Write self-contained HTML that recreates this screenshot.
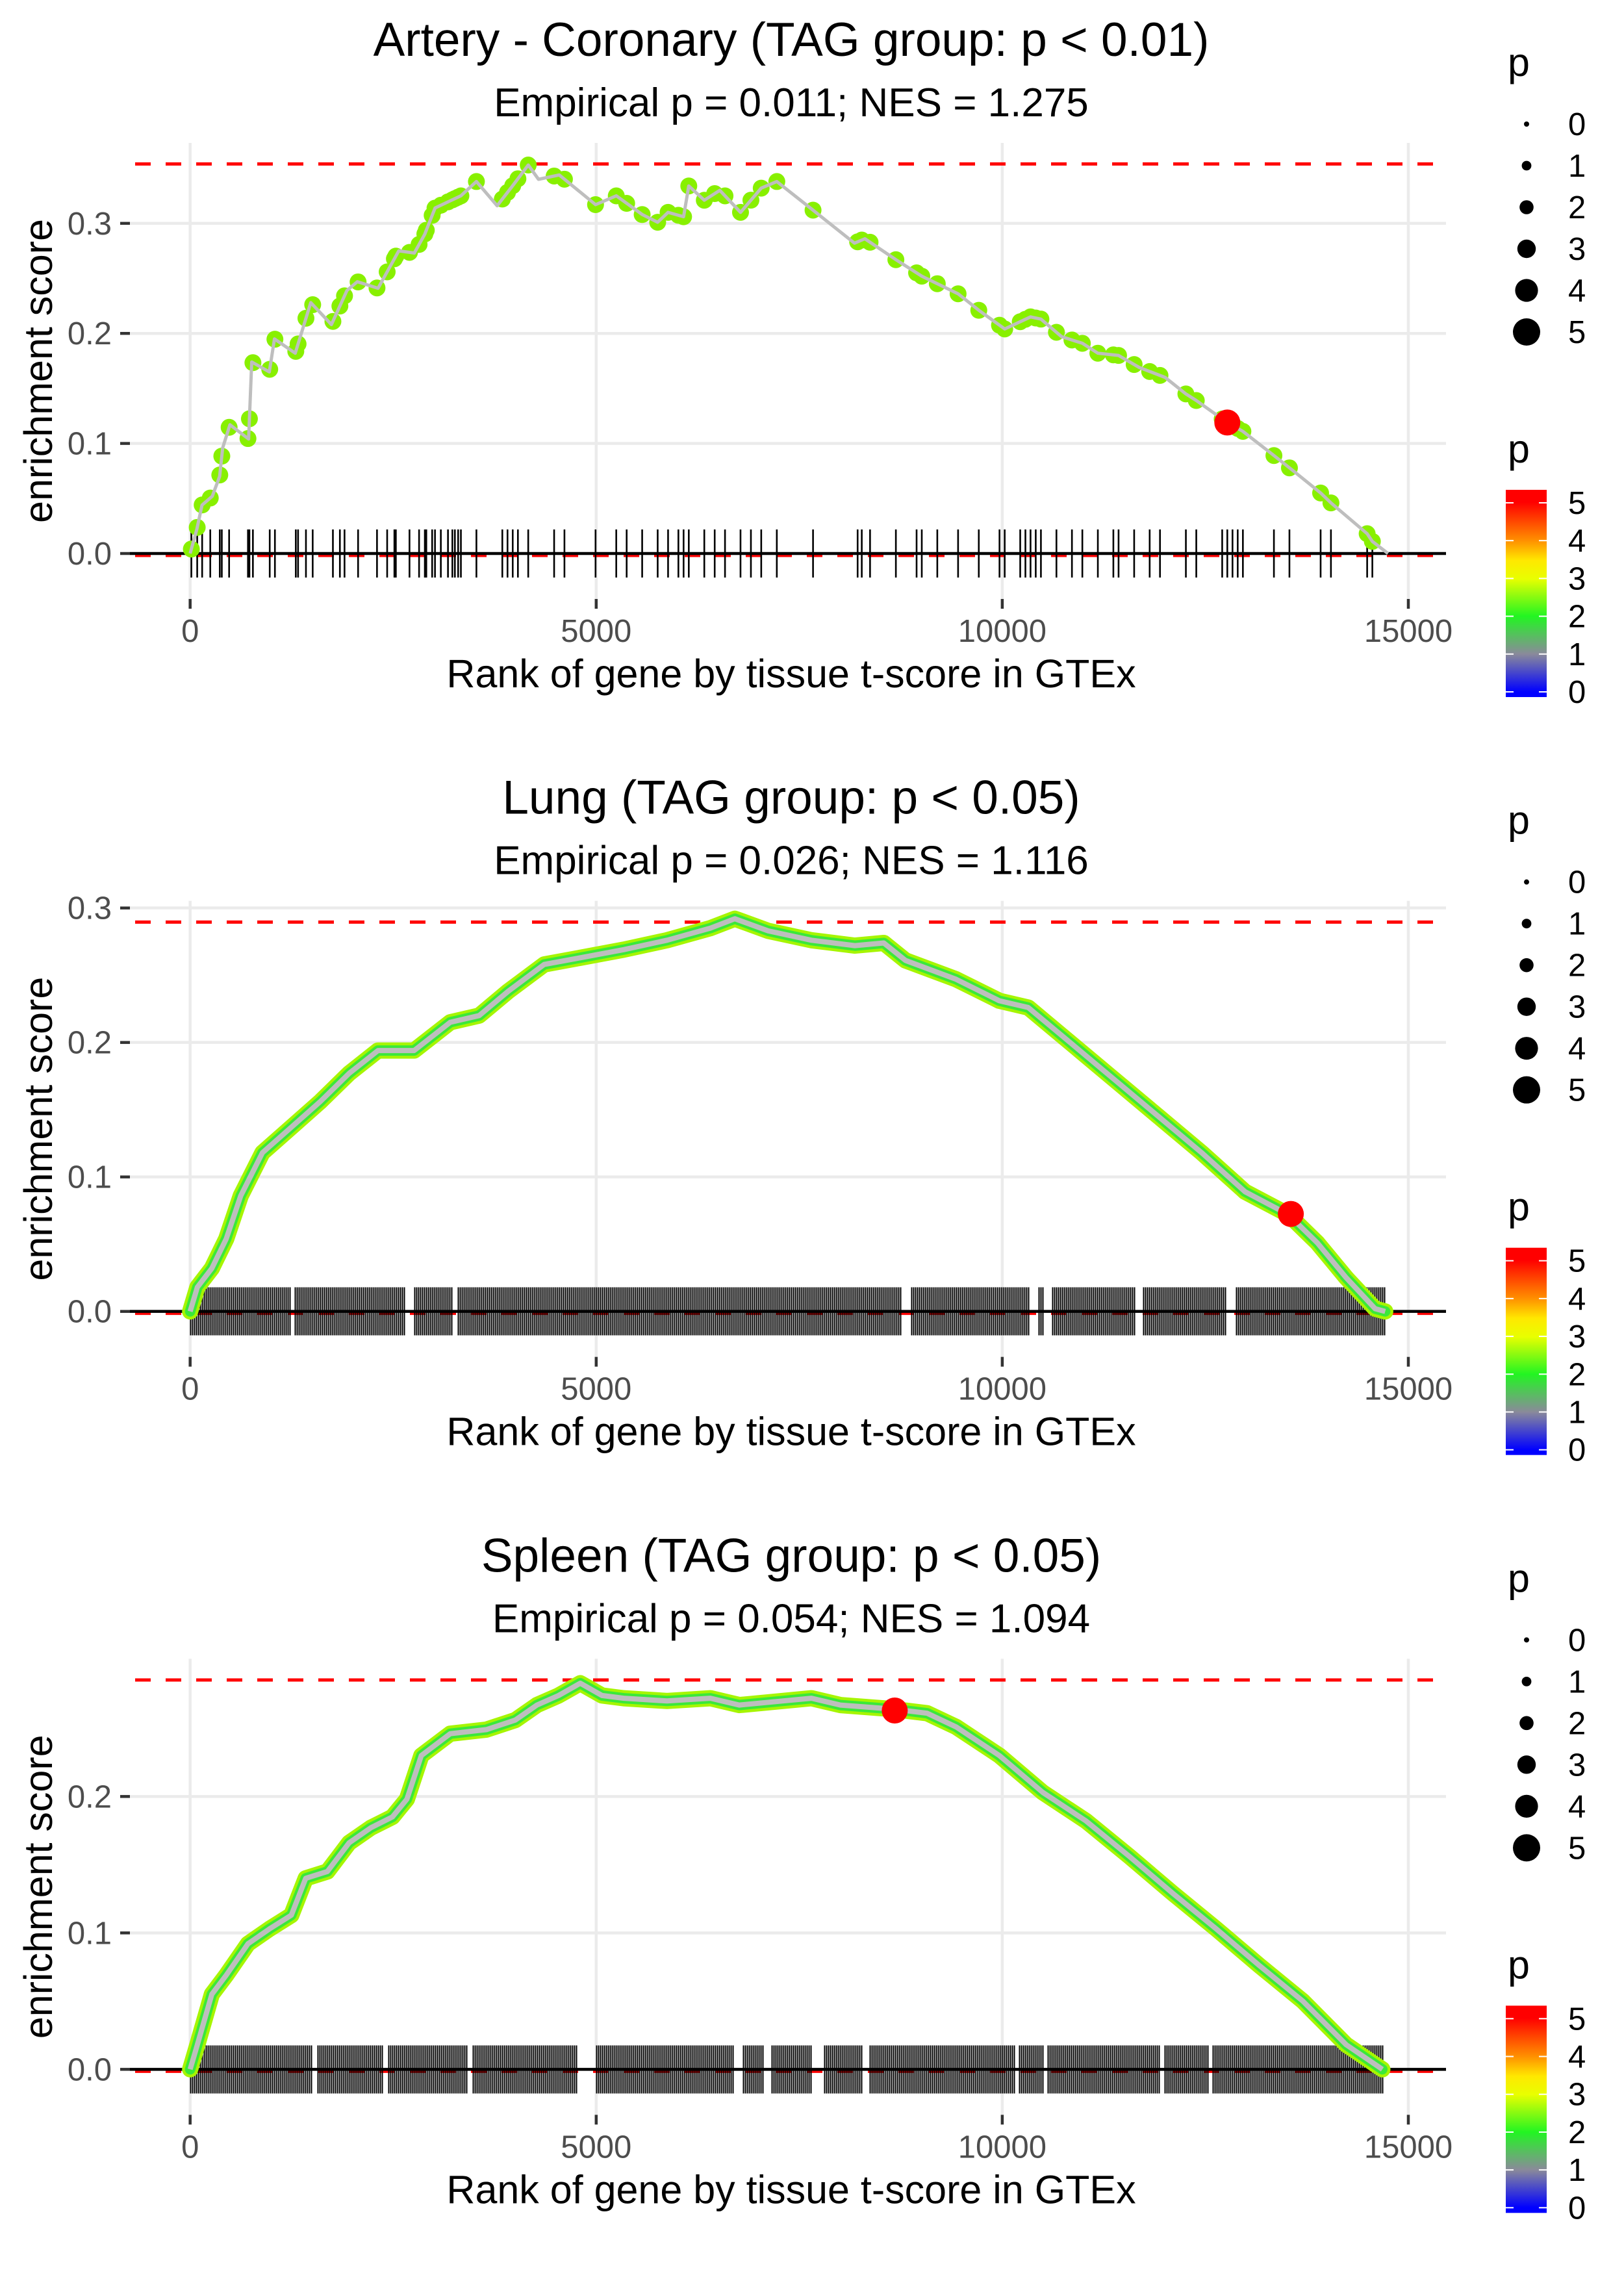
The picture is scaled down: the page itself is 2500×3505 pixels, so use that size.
<!DOCTYPE html>
<html><head><meta charset="utf-8"><style>
html,body{margin:0;padding:0;background:#fff;}
svg text{font-family:"Liberation Sans",sans-serif;}
</style></head><body>
<svg id="chart" width="2500" height="3500" viewBox="0 0 2500 3500" xmlns="http://www.w3.org/2000/svg">
<defs>
<linearGradient id="pgrad" x1="0" y1="1" x2="0" y2="0">
<stop offset="0.025" stop-color="#0000ff"/>
<stop offset="0.208" stop-color="#8a8a9a"/>
<stop offset="0.39" stop-color="#22f522"/>
<stop offset="0.57" stop-color="#e8ff00"/>
<stop offset="0.66" stop-color="#ffe800"/>
<stop offset="0.755" stop-color="#ff9000"/>
<stop offset="0.94" stop-color="#ff0000"/>
</linearGradient>
</defs>
</svg>
<script>
// ---------- data ----------
const panelTitles = ["Artery - Coronary (TAG group: p < 0.01)", "Lung (TAG group: p < 0.05)", "Spleen (TAG group: p < 0.05)"];
const panelSubtitles = ["Empirical p = 0.011; NES = 1.275", "Empirical p = 0.026; NES = 1.116", "Empirical p = 0.054; NES = 1.094"];
const maxES = [0.354, 0.2895, 0.2854];
const yTicks = [[0, 0.1, 0.2, 0.3], [0, 0.1, 0.2, 0.3], [0, 0.1, 0.2]];
const yTickLabels = [["0.0", "0.1", "0.2", "0.3"], ["0.0", "0.1", "0.2", "0.3"], ["0.0", "0.1", "0.2"]];
const xTicks = [0, 5000, 10000, 15000];
const xTickLabels = ["0", "5000", "10000", "15000"];
const sizeLegendValues = [0, 1, 2, 3, 4, 5];
const colorLegendValues = [0, 1, 2, 3, 4, 5];

const es1Rank = [0,82,146,273,363,401,490,720,758,975,1038,1294,1485,1740,1931,2059,2314,2569,2760,2888,3016,3334,3525,3780,3970,4163,4290,4545,4992,5247,5566,5757,5885,6076,6140,6331,6522,6777,7032,7224,7670,8180,8308,8690,9009,9456,9711,10030,10348,10476,10731,10986,11177,11432,11687,12006,12261,12389,12771,12963,13345,13601,13920,14047,14493,14557,14750];
const es1Value = [0,0.022,0.044,0.052,0.070,0.096,0.117,0.104,0.174,0.165,0.195,0.182,0.228,0.208,0.239,0.247,0.241,0.275,0.273,0.290,0.314,0.325,0.338,0.316,0.334,0.353,0.340,0.344,0.317,0.325,0.308,0.301,0.310,0.306,0.334,0.321,0.330,0.310,0.332,0.338,0.312,0.282,0.286,0.267,0.252,0.236,0.221,0.204,0.215,0.213,0.197,0.191,0.182,0.180,0.169,0.160,0.145,0.139,0.119,0.111,0.089,0.074,0.055,0.046,0.018,0.011,0];
const hits1 = [15,87,148,248,365,390,480,712,730,773,980,1044,1301,1329,1426,1509,1758,1844,1901,2068,2301,2426,2515,2533,2701,2819,2890,2908,2980,3015,3087,3175,3229,3260,3300,3334,3525,3844,3908,3972,4036,4163,4482,4609,4992,5247,5375,5566,5757,5885,6012,6076,6140,6331,6459,6586,6777,6905,7032,7224,7670,8219,8270,8372,8690,8945,9009,9200,9456,9711,9966,10030,10221,10285,10348,10412,10476,10667,10858,10986,11177,11368,11432,11624,11815,11942,12261,12389,12708,12771,12835,12899,12963,13345,13536,13920,14047,14493,14557];

const es2Rank = [0,89,267,445,623,890,1246,1601,1957,2313,2758,3203,3559,3915,4359,4804,5338,5872,6406,6708,7117,7651,8185,8541,8808,9431,9964,10320,10854,11388,11922,12456,12989,13523,13879,14235,14591,14715];
const es2Value = [0,0.018,0.032,0.054,0.086,0.118,0.137,0.156,0.177,0.194,0.194,0.215,0.220,0.238,0.258,0.263,0.269,0.276,0.285,0.292,0.283,0.276,0.272,0.274,0.261,0.247,0.231,0.226,0.199,0.172,0.145,0.118,0.089,0.072,0.051,0.025,0.002,0];
const rug2Blocks = [[0,1230],[1290,2640],[2760,3220],[3300,8770],[8880,10330],[10450,10500],[10620,11650],[11740,12760],[12880,14720]];

const es3Rank = [0,89,267,445,712,979,1246,1423,1690,1957,2224,2491,2669,2847,3203,3648,4004,4270,4537,4804,5071,5338,5872,6406,6762,7295,7651,8007,8665,9075,9431,9964,10498,11032,11566,12100,12633,13167,13701,14235,14680];
const es3Value = [0,0.018,0.055,0.069,0.092,0.103,0.113,0.140,0.145,0.166,0.177,0.185,0.198,0.230,0.246,0.249,0.256,0.267,0.274,0.283,0.274,0.272,0.270,0.272,0.267,0.270,0.272,0.267,0.264,0.261,0.251,0.230,0.203,0.182,0.156,0.129,0.103,0.076,0.050,0.018,0];
const rug3Blocks = [[0,1500],[1570,2370],[2440,3420],[3480,4760],[5000,6690],[6810,7070],[7160,7660],[7810,8270],[8370,10150],[10210,10500],[10560,11940],[12000,12530],[12590,14700]];

const redRank = [12771, 13553, 8676];
const redES = [0.119, 0.0725, 0.263];

// ---------- geometry ----------
const svg = document.getElementById('chart');
const NS = 'http://www.w3.org/2000/svg';
const PANEL_H = 1166.67, PLOT_L = 200, PLOT_R = 2226, PLOT_T = 220, PLOT_B = 922, ZERO_Y = 852;
const TITLE_X = 1218;
const yScale = [1694, 2070, 2100];
function xPx(r){ return 292.7 + r * 0.12502; }
function yPx(v, i){ return i * PANEL_H + ZERO_Y - v * yScale[i]; }
function mk(tag, attrs, parent){
  const e = document.createElementNS(NS, tag);
  for (const k in attrs) e.setAttribute(k, attrs[k]);
  (parent || svg).appendChild(e);
  return e;
}
function interp(ranks, vals, r){
  for (let k = 1; k < ranks.length; k++){
    if (r <= ranks[k]){ const t = (r - ranks[k-1]) / (ranks[k] - ranks[k-1]); return vals[k-1] + t * (vals[k] - vals[k-1]); }
  }
  return vals[vals.length - 1];
}
function pathFrom(ranks, vals, i){
  return ranks.map((r, k) => (k ? 'L' : 'M') + xPx(r).toFixed(1) + ' ' + yPx(vals[k], i).toFixed(1)).join(' ');
}

const esRanks = [es1Rank, es2Rank, es3Rank];
const esVals = [es1Value, es2Value, es3Value];

for (let i = 0; i < 3; i++){
  const off = i * PANEL_H;
  const g = mk('g', {});
  
  

  const t = mk('text', {x: TITLE_X, y: off + 86, 'font-size': 73, 'text-anchor': 'middle', fill: '#000'}, g);
  t.textContent = panelTitles[i];
  
  
  const st = mk('text', {x: TITLE_X, y: off + 179, 'font-size': 62, 'text-anchor': 'middle', fill: '#000'}, g);
  st.textContent = panelSubtitles[i];
  
  

  // gridlines
  xTicks.forEach(v => {
    const l = mk('line', {x1: xPx(v), x2: xPx(v), y1: off + PLOT_T, y2: off + PLOT_B, stroke: '#ebebeb', 'stroke-width': 4.5}, g);
    
    
  });
  yTicks[i].forEach(v => {
    const l = mk('line', {x1: PLOT_L, x2: PLOT_R, y1: yPx(v, i), y2: yPx(v, i), stroke: '#ebebeb', 'stroke-width': 4.5}, g);
    
    
  });

  // axis ticks + labels
  yTicks[i].forEach((v, k) => {
    const tk = mk('line', {x1: 185, x2: 200, y1: yPx(v, i), y2: yPx(v, i), stroke: '#333', 'stroke-width': 4.5}, g);
    
    
    const lb = mk('text', {x: 172, y: yPx(v, i) + 17, 'font-size': 49, 'text-anchor': 'end', fill: '#4d4d4d'}, g);
    lb.textContent = yTickLabels[i][k];
    
    
  });
  xTicks.forEach((v, k) => {
    const tk = mk('line', {x1: xPx(v), x2: xPx(v), y1: off + 922, y2: off + 937, stroke: '#333', 'stroke-width': 4.5}, g);
    
    
    const lb = mk('text', {x: xPx(v), y: off + 988, 'font-size': 49, 'text-anchor': 'middle', fill: '#4d4d4d'}, g);
    lb.textContent = xTickLabels[k];
    
    
  });
  const xt = mk('text', {x: TITLE_X, y: off + 1058, 'font-size': 61, 'text-anchor': 'middle', fill: '#000'}, g);
  xt.textContent = 'Rank of gene by tissue t-score in GTEx';
  
  
  const yt = mk('text', {x: 0, y: 0, 'font-size': 61, 'text-anchor': 'middle', fill: '#000', transform: 'translate(80,' + (off + 571) + ') rotate(-90)'}, g);
  yt.textContent = 'enrichment score';
  
  

  // red dashed lines
  [maxES[i], 0].forEach((v, k) => {
    const l = mk('line', {x1: PLOT_L + 8, x2: PLOT_R - 8, y1: yPx(v, i) + (k ? 3 : 0), y2: yPx(v, i) + (k ? 3 : 0), stroke: '#ff0000', 'stroke-width': 5, 'stroke-dasharray': '24 23'}, g);
    
    
  });

  // rug
  const rugTop = off + 815, rugBot = off + 889;
  if (i === 0){
    hits1.forEach(r => {
      const l = mk('line', {x1: xPx(r), x2: xPx(r), y1: rugTop, y2: rugBot, stroke: '#000', 'stroke-width': 2.6}, g);
      
      
    });
  } else {
    const blocks = i === 1 ? rug2Blocks : rug3Blocks;
    blocks.forEach(b => {
      let d = '';
      for (let r = b[0]; r <= b[1]; r += 24) d += 'M' + Math.round(xPx(r)) + '.5 ' + rugTop + 'V' + rugBot;
      const p = mk('path', {d: d, stroke: '#000', 'stroke-width': 2, fill: 'none', 'shape-rendering': 'crispEdges'}, g);
      
      
    });
  }

  // zero line
  const z = mk('line', {x1: PLOT_L, x2: PLOT_R, y1: yPx(0, i), y2: yPx(0, i), stroke: '#000', 'stroke-width': 4.5}, g);
  
  

  const d = pathFrom(esRanks[i], esVals[i], i);
  if (i === 0){
    hits1.forEach(r => {
      const c = mk('ellipse', {cx: xPx(r), cy: yPx(interp(es1Rank, es1Value, r), i), rx: 13, ry: 13, fill: '#88f000'}, g);
      
      
    });
    const ln = mk('path', {d: d, stroke: '#bebebe', 'stroke-width': 5, fill: 'none', 'stroke-linejoin': 'round'}, g);
    
    
  } else {
    const o = mk('path', {d: d, stroke: '#a6f500', 'stroke-width': 25, fill: 'none', 'stroke-linejoin': 'round', 'stroke-linecap': 'round'}, g);
    
    
    const m = mk('path', {d: d, stroke: '#3ae83a', 'stroke-width': 16, fill: 'none', 'stroke-linejoin': 'round', 'stroke-linecap': 'round'}, g);
    
    
    const ln = mk('path', {d: d, stroke: '#bebebe', 'stroke-width': 8, fill: 'none', 'stroke-linejoin': 'round'}, g);
    
    
  }
  const red = mk('circle', {cx: xPx(redRank[i]), cy: yPx(redES[i], i), r: 20, fill: '#ff0000'}, g);
  
  

  // size legend
  const lt = mk('text', {x: 2321, y: off + 117, 'font-size': 61, fill: '#000'}, g);
  lt.textContent = 'p';
  
  
  sizeLegendValues.forEach((v, k) => {
    const cy = off + 191 + k * 64;
    const c = mk('circle', {cx: 2350, cy: cy, r: 4 + v * 3.4, fill: '#000'}, g);
    
    
    const tx = mk('text', {x: 2414, y: cy + 17, 'font-size': 49, fill: '#000'}, g);
    tx.textContent = String(v);
    
    
  });

  // color legend
  const ct = mk('text', {x: 2321, y: off + 712, 'font-size': 61, fill: '#000'}, g);
  ct.textContent = 'p';
  
  
  const bar = mk('rect', {x: 2318, y: off + 754, width: 63, height: 319, fill: 'url(#pgrad)'}, g);
  
  
  colorLegendValues.forEach(v => {
    const cy = off + 1065 - v * 58.2;
    const t1 = mk('line', {x1: 2318, x2: 2330, y1: cy, y2: cy, stroke: '#fff', 'stroke-width': 2}, g);
    
    
    const t2 = mk('line', {x1: 2369, x2: 2381, y1: cy, y2: cy, stroke: '#fff', 'stroke-width': 2}, g);
    
    
    const tx = mk('text', {x: 2414, y: cy + 17, 'font-size': 49, fill: '#000'}, g);
    tx.textContent = String(v);
    
    
  });
}
</script>
</body></html>
